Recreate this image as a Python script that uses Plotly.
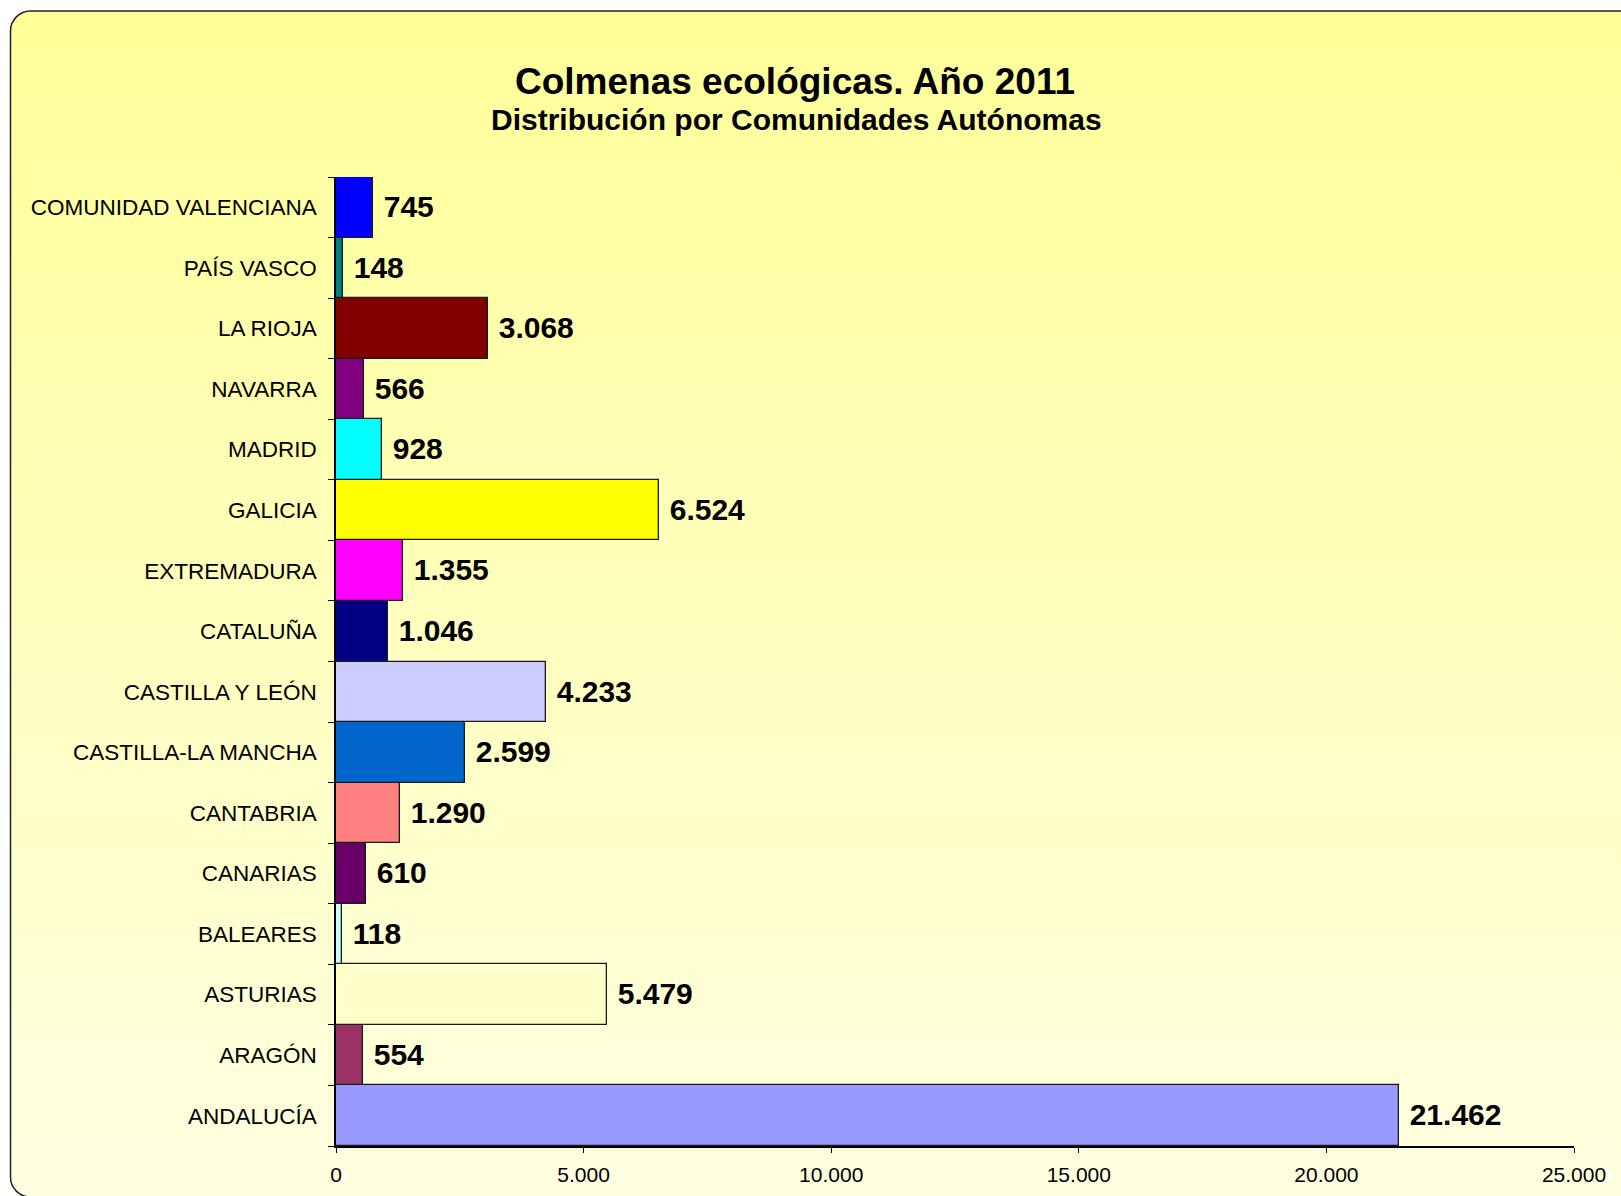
import base64
import plotly.graph_objects as go

# data, bottom to top as plotly lays out categories
comunidades = [
    "ANDALUCÍA", "ARAGÓN", "ASTURIAS", "BALEARES", "CANARIAS", "CANTABRIA",
    "CASTILLA-LA MANCHA", "CASTILLA Y LEÓN", "CATALUÑA", "EXTREMADURA",
    "GALICIA", "MADRID", "NAVARRA", "LA RIOJA", "PAÍS VASCO",
    "COMUNIDAD VALENCIANA",
]
colmenas = [21462, 554, 5479, 118, 610, 1290, 2599, 4233, 1046, 1355,
            6524, 928, 566, 3068, 148, 745]
colores = [
    "#9999FF", "#993366", "#FFFFCC", "#CCFFFF", "#660066", "#FF8080",
    "#0066CC", "#CCCCFF", "#000080", "#FF00FF",
    "#FFFF00", "#00FFFF", "#800080", "#800000", "#008080",
    "#0000FF",
]
x_ticks = [0, 5000, 10000, 15000, 20000, 25000]

W, H = 1621, 1196
ML, MR, MT, MB = 336, 47, 177, 50
PW, PH = W - ML - MR, H - MT - MB

FONT = "Liberation Sans, Arial, sans-serif"

# rounded yellow gradient panel behind the chart
svg = f"""<svg xmlns="http://www.w3.org/2000/svg" width="{W}" height="{H}" viewBox="0 0 {W} {H}">
<defs><linearGradient id="g" x1="0" y1="0" x2="0" y2="1">
<stop offset="0" stop-color="#FFFF99"/><stop offset="1" stop-color="#FFFFE2"/>
</linearGradient></defs>
<rect x="10.5" y="11" width="1650" height="1186" rx="20" ry="20" fill="url(#g)" stroke="#222" stroke-width="1.5"/>
</svg>"""
bg_src = "data:image/svg+xml;base64," + base64.b64encode(svg.encode()).decode()

fig = go.Figure(go.Bar(
    y=comunidades,
    x=colmenas,
    orientation="h",
    marker=dict(color=colores, line=dict(color="#1a1a1a", width=1.3)),
    texttemplate=" %{x:,}",
    textposition="outside",
    constraintext="none",
    cliponaxis=False,
    textfont=dict(family=FONT, size=30, color="black", weight="bold"),
    hoverinfo="x+y",
))

fig.update_layout(
    width=W, height=H,
    margin=dict(l=ML, r=MR, t=MT, b=MB),
    paper_bgcolor="white",
    plot_bgcolor="rgba(0,0,0,0)",
    separators=",.",
    bargap=0,
    showlegend=False,
    font=dict(family=FONT, color="black"),
    images=[dict(
        source=bg_src, xref="paper", yref="paper",
        x=-ML / PW, y=1 + MT / PH, sizex=W / PW, sizey=H / PH,
        xanchor="left", yanchor="top", sizing="stretch", layer="below",
    )],
    annotations=[
        dict(text="<b>Colmenas ecológicas. Año 2011</b>", xref="paper", yref="paper",
             x=(795 - ML) / PW, y=1 + (MT - 82) / PH, showarrow=False,
             xanchor="center", yanchor="middle", font=dict(size=37, family=FONT)),
        dict(text="<b>Distribución por Comunidades Autónomas</b>", xref="paper", yref="paper",
             x=(796 - ML) / PW, y=1 + (MT - 119) / PH, showarrow=False,
             xanchor="center", yanchor="middle", font=dict(size=30, family=FONT)),
    ],
)

fig.update_xaxes(
    range=[0, 25000], tickvals=x_ticks, tickformat=",",
    showgrid=False, zeroline=False, automargin=False,
    showline=True, linecolor="black", linewidth=1.5,
    ticks="outside", ticklen=5, tickcolor="black",
    tickfont=dict(size=21), ticklabelstandoff=4,
)
fig.update_yaxes(
    type="category", range=[-0.5, len(comunidades) - 0.5],
    showgrid=False, zeroline=False, automargin=False,
    showline=True, linecolor="black", linewidth=1.5,
    ticks="outside", tickson="boundaries", ticklen=6, tickcolor="black",
    tickfont=dict(size=22.5), ticklabelstandoff=13,
)

# drop the default page margin so the figure sits at the window origin
fig.write_html("out.html", config={"displayModeBar": False},
               post_script="document.body.style.margin='0';")
